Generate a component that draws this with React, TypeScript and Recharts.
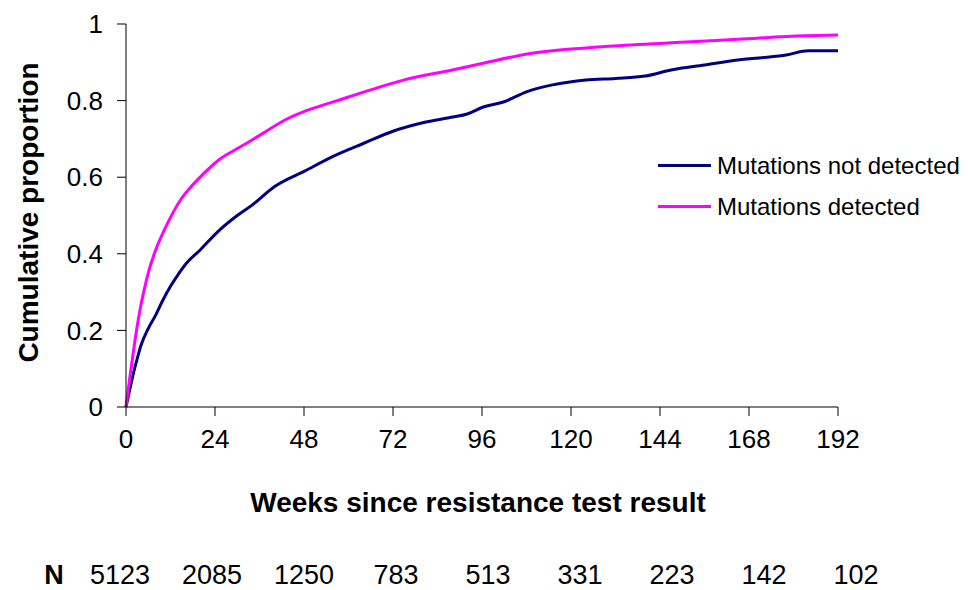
import React from "react";
import { LineChart, Line, XAxis, YAxis, Legend } from "recharts";

// axis ticks and the numbers-at-risk row
const weekTicks = [0, 24, 48, 72, 96, 120, 144, 168, 192];
const proportionTicks = [0, 0.2, 0.4, 0.6, 0.8, 1];
const nAtRisk = [5123, 2085, 1250, 783, 513, 331, 223, 142, 102];
const legendOrder = ["Mutations not detected", "Mutations detected"];

// cumulative curves
const notDetectedWeeks = [
  0, 1, 2, 3, 4, 6, 8, 10, 12, 14, 16, 20, 25, 30, 34, 40, 48, 56, 64, 72,
  80, 88, 92, 96, 102, 108, 115, 124, 132, 140, 147, 156, 165, 178, 184, 192,
];
const notDetectedProp = [
  0, 0.045, 0.088, 0.125, 0.16, 0.205, 0.24, 0.28, 0.315, 0.345, 0.372, 0.41,
  0.46, 0.5, 0.527, 0.575, 0.615, 0.655, 0.688, 0.72, 0.742, 0.757, 0.765,
  0.782, 0.797, 0.823, 0.841, 0.854, 0.858, 0.864, 0.88, 0.893, 0.906, 0.919,
  0.93, 0.93,
];
const detectedWeeks = [
  0, 1, 2, 3, 4, 5, 6, 8, 10, 12, 15, 18, 21, 25, 31, 37, 43, 49, 57, 66, 75,
  88, 96, 109, 129, 147, 165, 183, 192,
];
const detectedProp = [
  0, 0.075, 0.145, 0.21, 0.265, 0.31, 0.35, 0.41, 0.455, 0.495, 0.545, 0.58,
  0.61, 0.645, 0.68, 0.715, 0.75, 0.775, 0.8, 0.828, 0.854, 0.88, 0.897,
  0.923, 0.941, 0.951, 0.96, 0.969, 0.971,
];

const FONT = '"Liberation Sans", Arial, sans-serif';
const NAVY = "#000080";
const MAGENTA = "#FF00FF";

const notDetected = notDetectedWeeks.map((w, i) => ({ week: w, p: notDetectedProp[i] }));
const detected = detectedWeeks.map((w, i) => ({ week: w, p: detectedProp[i] }));

function NTick(props: any) {
  const { x, y, payload } = props;
  const i = weekTicks.indexOf(payload.value);
  if (i < 0) return null;
  // the printed row drifts a little to the right of the week ticks
  const shift = payload.value / 8 - 6;
  return (
    <text x={x + shift} y={y + 57} textAnchor="middle" fontSize={27} fontFamily={FONT} fill="#000">
      {nAtRisk[i]}
    </text>
  );
}

function NLabel(props: any) {
  const vb = props.viewBox;
  return (
    <text x={vb.x - 72} y={vb.y + 57} textAnchor="middle" fontSize={27} fontWeight="bold" fontFamily={FONT} fill="#000">
      N
    </text>
  );
}

function XTitle(props: any) {
  const vb = props.viewBox;
  return (
    <text x={vb.x + vb.width / 2 - 4} y={vb.y + 105} textAnchor="middle" fontSize={28} fontWeight="bold" fontFamily={FONT} fill="#000">
      Weeks since resistance test result
    </text>
  );
}

function YTitle(props: any) {
  const vb = props.viewBox;
  const cx = vb.x + 38;
  const cy = vb.y + vb.height / 2 - 3;
  return (
    <text x={cx} y={cy} transform={`rotate(-90 ${cx} ${cy})`} textAnchor="middle" fontSize={28} fontWeight="bold" fontFamily={FONT} fill="#000">
      Cumulative proportion
    </text>
  );
}

function LegendBox(props: any) {
  const items = [...(props.payload || [])].sort(
    (a: any, b: any) => legendOrder.indexOf(a.value) - legendOrder.indexOf(b.value)
  );
  return (
    <div style={{ fontFamily: FONT, fontSize: 24, color: "#000" }}>
      {items.map((it: any) => (
        <div key={it.value} style={{ display: "flex", alignItems: "center", height: 41 }}>
          <span style={{ display: "inline-block", width: 53, height: 3, background: it.color, marginRight: 6 }} />
          <span style={{ whiteSpace: "nowrap" }}>{it.value}</span>
        </div>
      ))}
    </div>
  );
}

export default function App() {
  return (
    <div style={{ position: "absolute", left: 0, top: 0, width: 968, height: 590, background: "#fff" }}>
      <LineChart width={968} height={590} margin={{ top: 24, right: 130, left: 0, bottom: 0 }}>
        <XAxis
          dataKey="week"
          type="number"
          domain={[0, 192]}
          ticks={weekTicks}
          interval={0}
          height={120}
          stroke="#000"
          tickSize={9}
          tickMargin={14}
          tick={{ fontSize: 26, fill: "#000", fontFamily: FONT }}
          label={<XTitle />}
          allowDuplicatedCategory={false}
        />
        <XAxis
          xAxisId="n"
          dataKey="week"
          type="number"
          domain={[0, 192]}
          allowDataOverflow
          ticks={weekTicks}
          interval={0}
          height={63}
          axisLine={false}
          tickLine={false}
          tickSize={0}
          tickMargin={0}
          tick={<NTick />}
          label={<NLabel />}
        />
        <YAxis
          type="number"
          domain={[0, 1]}
          ticks={proportionTicks}
          interval={0}
          width={126}
          stroke="#000"
          tickSize={9}
          tickMargin={14}
          tickFormatter={(v: number) => String(v)}
          tick={{ fontSize: 26, fill: "#000", fontFamily: FONT }}
          label={<YTitle />}
        />
        <Legend
          layout="vertical"
          align="center"
          verticalAlign="middle"
          content={<LegendBox />}
          wrapperStyle={{ left: 658, top: 145, width: "auto" }}
        />
        <Line
          data={notDetected}
          dataKey="p"
          name="Mutations not detected"
          type="monotone"
          stroke={NAVY}
          strokeWidth={3}
          dot={false}
          isAnimationActive={false}
        />
        <Line
          data={detected}
          dataKey="p"
          name="Mutations detected"
          type="monotone"
          stroke={MAGENTA}
          strokeWidth={3}
          dot={false}
          isAnimationActive={false}
        />
      </LineChart>
    </div>
  );
}
